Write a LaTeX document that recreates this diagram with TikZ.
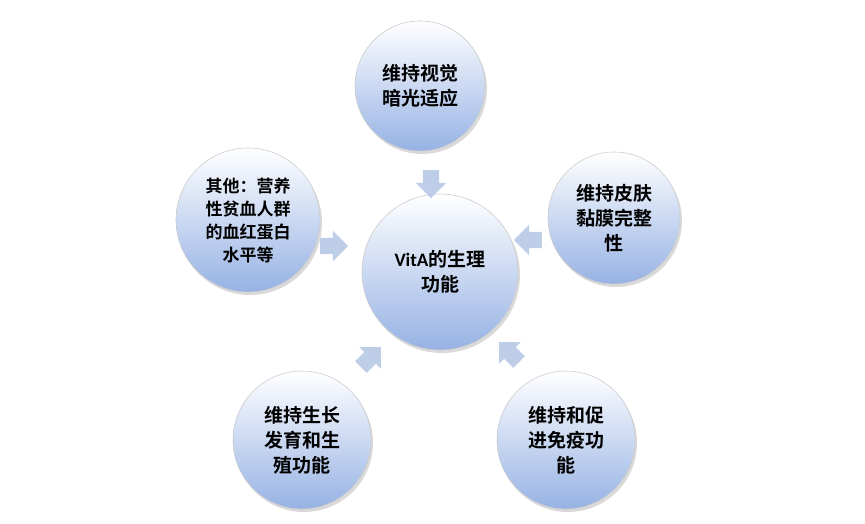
\documentclass[tikz,border=0pt]{standalone}
\usepackage{fontspec}
\newfontfamily\cjk[BoldFont={Noto Sans CJK SC Bold}]{Noto Sans CJK SC}
\newfontfamily\lat{Carlito}
\usetikzlibrary{shapes.arrows,shadows}
\definecolor{bb}{RGB}{150,178,228}
\definecolor{ab}{RGB}{190,205,232}
\begin{document}
\begin{tikzpicture}[x=1pt,y=-1pt,
 ball/.style={circle,draw=white!60!gray,line width=0.6pt,top color=white,bottom color=bb,
   drop shadow={shadow xshift=2pt,shadow yshift=-3pt,opacity=0.3},
   font=\cjk\bfseries\fontsize{19}{25}\selectfont,align=center,inner sep=0pt},
 arr/.style={single arrow,draw=none,fill=ab,
   minimum height=28pt,inner sep=8pt,single arrow head extend=7pt}]
\useasboundingbox (0,0) rectangle (865,523);
\node[ball,minimum size=156pt] (c) at (440,272) {{\lat VitA}的生理\\功能};
\node[ball,minimum size=130pt] (t) at (420,86) {维持视觉\\暗光适应};
\node[ball,minimum size=132pt] (r) at (614,218) {维持皮肤\\黏膜完整\\性};
\node[ball,minimum size=138pt] (br) at (566,440) {维持和促\\进免疫功\\能};
\node[ball,minimum size=138pt] (bl) at (302,440) {维持生长\\发育和生\\殖功能};
\node[ball,minimum size=144pt,font=\cjk\bfseries\fontsize{17}{23}\selectfont] (l) at (248,220) {其他：营养\\性贫血人群\\的血红蛋白\\水平等};
\node[arr,rotate=-90] (a1) at (431,180) {};
\node[arr,rotate=180] (a2) at (532,240) {};
\node[arr,rotate=135] (a3) at (512,355) {};
\node[arr,rotate=45] (a4) at (368,360) {};
\node[arr,rotate=0] (a5) at (330,246) {};
\end{tikzpicture}
\end{document}
